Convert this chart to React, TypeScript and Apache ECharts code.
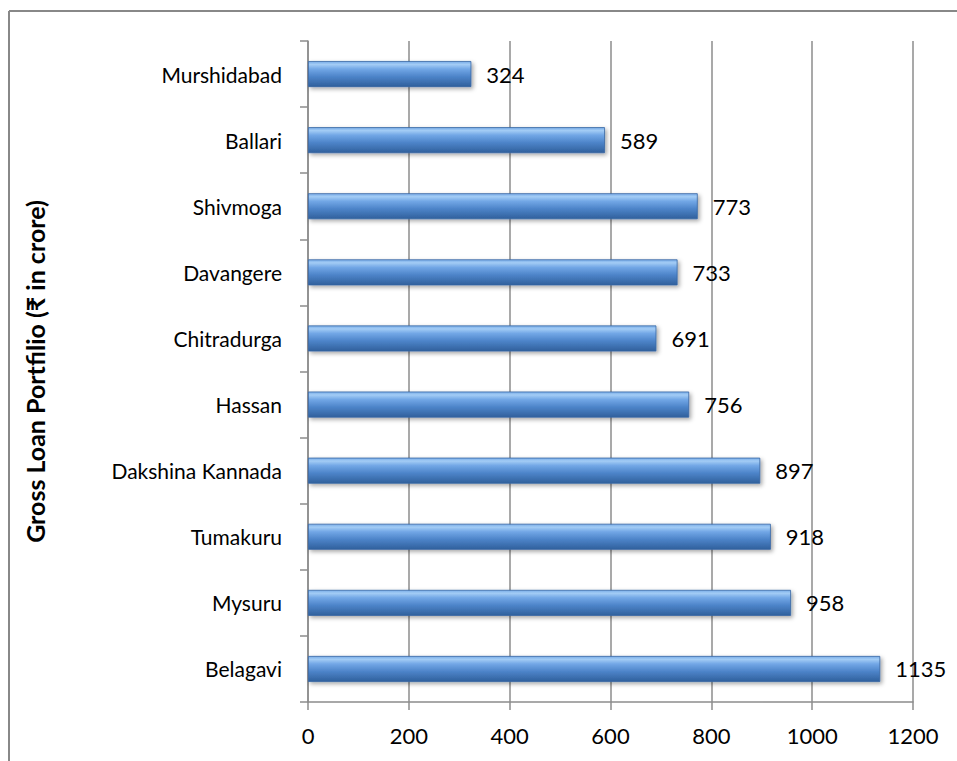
import React, { useEffect, useRef } from "react";
import * as echarts from "echarts";

const categories = [
  "Murshidabad",
  "Ballari",
  "Shivmoga",
  "Davangere",
  "Chitradurga",
  "Hassan",
  "Dakshina Kannada",
  "Tumakuru",
  "Mysuru",
  "Belagavi",
];
const values = [324, 589, 773, 733, 691, 756, 897, 918, 958, 1135];
const axisTitle = "Gross Loan Portfilio (₹ in crore)";

const FONT = "Lato, 'Noto Sans', 'DejaVu Sans', sans-serif";

export default function App() {
  const ref = useRef<HTMLDivElement>(null);
  useEffect(() => {
    if (!ref.current) return;
    const chart = echarts.init(ref.current, null, { renderer: "svg" });
    chart.setOption({
      animation: false,
      backgroundColor: "#ffffff",
      grid: { left: 308, right: 44, top: 41, bottom: 59, containLabel: false },
      xAxis: {
        type: "value",
        min: 0,
        max: 1200,
        interval: 200,
        axisLine: { show: true, lineStyle: { color: "#8c8c8c", width: 1.5 } },
        axisTick: { show: true, length: 8, lineStyle: { color: "#8c8c8c", width: 1.5 } },
        splitLine: { show: true, lineStyle: { color: "#8c8c8c", width: 1.5 } },
        axisLabel: {
          color: "#000",
          fontSize: 22,
          fontFamily: FONT,
          margin: 22,
          formatter: (v: number) => String(v),
        },
      },
      yAxis: {
        type: "category",
        data: categories,
        inverse: true,
        name: axisTitle,
        nameLocation: "middle",
        nameGap: 261,
        nameRotate: 90,
        nameTextStyle: { color: "#000", fontSize: 25, fontWeight: "bold", fontFamily: FONT },
        axisLine: { show: true, lineStyle: { color: "#8c8c8c", width: 1.5 } },
        axisTick: { show: true, length: 8, lineStyle: { color: "#8c8c8c", width: 1.5 } },
        splitLine: { show: false },
        axisLabel: { color: "#000", fontSize: 21, fontFamily: FONT, margin: 26 },
      },
      series: [
        {
          type: "bar",
          data: values,
          barWidth: 26,
          itemStyle: {
            color: new echarts.graphic.LinearGradient(0, 0, 0, 1, [
              { offset: 0, color: "#78ace8" },
              { offset: 0.12, color: "#a3ccf5" },
              { offset: 0.3, color: "#72a7e6" },
              { offset: 0.6, color: "#4d84c9" },
              { offset: 1, color: "#30609c" },
            ]),
            borderColor: "#3766a3",
            borderWidth: 0.8,
            shadowColor: "rgba(0,0,0,0.35)",
            shadowBlur: 4,
            shadowOffsetX: 2,
            shadowOffsetY: 2,
          },
          label: {
            show: true,
            position: "right",
            distance: 15,
            color: "#000",
            fontSize: 22,
            fontFamily: FONT,
          },
        },
      ],
      graphic: [
        {
          type: "line",
          shape: { x1: 9, y1: 11, x2: 9, y2: 761 },
          style: { stroke: "#888", lineWidth: 2 },
          silent: true,
        },
        {
          type: "line",
          shape: { x1: 9, y1: 11, x2: 957, y2: 11 },
          style: { stroke: "#888", lineWidth: 2 },
          silent: true,
        },
      ],
    });
    return () => chart.dispose();
  }, []);
  return (
    <div
      ref={ref}
      style={{ position: "fixed", left: 0, top: 0, width: 957, height: 761 }}
    />
  );
}
